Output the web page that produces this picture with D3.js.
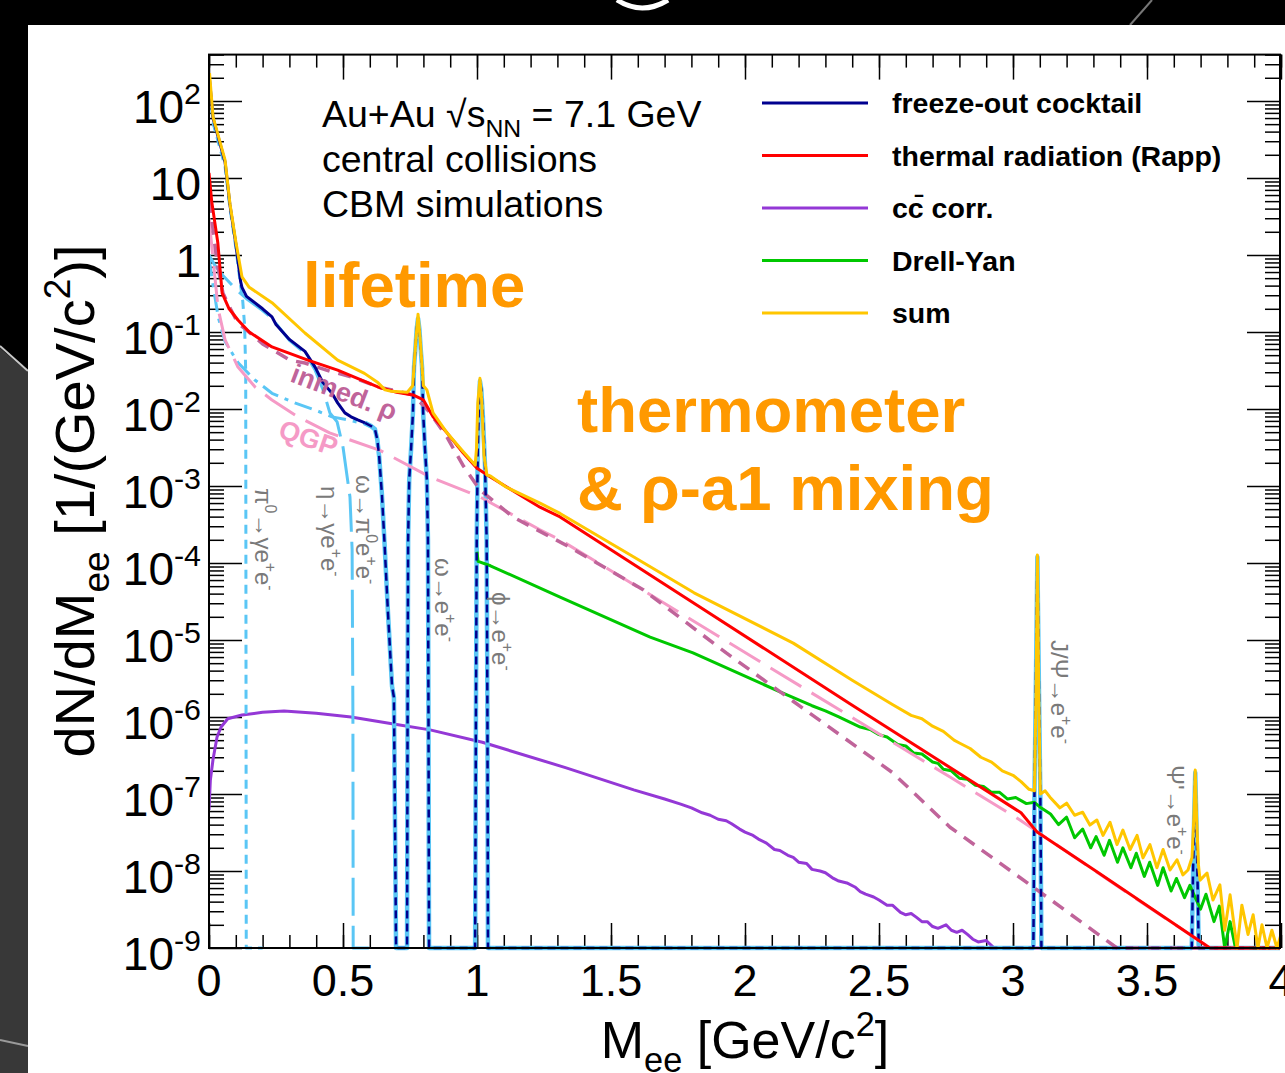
<!DOCTYPE html>
<html><head><meta charset="utf-8">
<script src="https://cdn.jsdelivr.net/npm/d3@7"></script>
<style>body{margin:0;background:#000;overflow:hidden}svg{display:block}</style>
</head><body><svg id="c" width="1285" height="1073"></svg>
<script>
// ---------------- DATA ----------------
const freezeOutCocktail = [[0,225],[0.015,60],[0.06,16],[0.078,4.5],[0.1,1.4],[0.118,0.45],[0.123,0.38],[0.14,0.29],[0.2,0.2],[0.235,0.157],[0.25,0.125],[0.3,0.08],[0.358,0.056],[0.396,0.035],[0.425,0.022],[0.459,0.016],[0.48,0.012],[0.507,0.0089],[0.53,0.0079],[0.555,0.0072],[0.582,0.0066],[0.605,0.006],[0.619,0.0055],[0.628,0.004],[0.635,0.0024],[0.645,8e-4],[0.655,1.8e-4],[0.668,2.2e-5],[0.683,2.5e-6],[0.69,1.8e-6],[0.698,1e-9],[0.739,1e-9],[0.741,1e-6],[0.743,2e-4],[0.747,1.2e-3],[0.754,3e-3],[0.761,0.009],[0.765,0.035],[0.770,0.06],[0.775,0.11],[0.780,0.15],[0.785,0.11],[0.790,0.06],[0.795,0.035],[0.799,0.009],[0.806,0.003],[0.813,1.2e-3],[0.817,2e-4],[0.819,1e-6],[0.821,1e-9],[0.993,1e-9],[0.996,1e-6],[0.999,2e-4],[1.003,3e-3],[1.007,0.011],[1.011,0.023],[1.016,0.018],[1.022,0.008],[1.030,1.8e-3],[1.036,2e-4],[1.039,1e-6],[1.041,1e-9],[3.076,1e-9],[3.080,1e-7],[3.085,2e-6],[3.091,1.2e-4],[3.097,2e-6],[3.102,1e-7],[3.106,1e-9],[3.667,1e-9],[3.672,1e-8],[3.676,5e-8],[3.680,1.9e-7],[3.684,5e-8],[3.688,1e-8],[3.693,1e-9],[4,1e-9]];
const pi0Dalitz = [[0,200],[0.015,52],[0.06,14],[0.078,4.1],[0.1,1.25],[0.118,0.4],[0.126,0.25],[0.133,0.12],[0.137,0.03],[0.138,1e-5],[0.139,1e-9],[0.2,1e-9]];
const etaDalitz = [[0,1.0],[0.02,0.75],[0.05,0.55],[0.1,0.36],[0.14,0.27],[0.2,0.19],[0.235,0.15],[0.3,0.078],[0.358,0.053],[0.396,0.032],[0.425,0.018],[0.451,0.0089],[0.478,0.0068],[0.5,0.0032],[0.526,7.2e-4],[0.534,1.5e-4],[0.537,1e-6],[0.538,1e-9],[0.6,1e-9]];
const omegaDalitz = [[0,0.9],[0.011,0.5],[0.034,0.157],[0.06,0.075],[0.108,0.04],[0.17,0.024],[0.235,0.016],[0.32,0.012],[0.396,0.0097],[0.459,0.0079],[0.52,0.0072],[0.58,0.0064],[0.605,0.0058],[0.619,0.0053],[0.628,0.0039],[0.635,0.0023],[0.645,7.5e-4],[0.655,1.7e-4],[0.668,2.1e-5],[0.683,2.4e-6],[0.69,1.7e-6],[0.698,1e-9]];
const inmedRho = [[0,10],[0.01,3],[0.03,0.8],[0.052,0.32],[0.08,0.2],[0.108,0.13],[0.142,0.105],[0.2,0.07],[0.302,0.043],[0.358,0.0395],[0.45,0.031],[0.534,0.026],[0.638,0.019],[0.683,0.0177],[0.72,0.0165],[0.761,0.0152],[0.79,0.012],[0.825,0.0089],[0.888,0.0043],[0.95,0.0018],[1.011,8.9e-4],[1.134,3.95e-4],[1.347,1.6e-4],[1.62,4.5e-5],[1.93,6.8e-6],[2.24,1.13e-6],[2.55,1.9e-7],[2.765,3.7e-8],[3.075,6.2e-9],[3.388,1e-9],[4,1e-9]];
const qgp = [[0,3.0],[0.015,0.9],[0.034,0.2],[0.06,0.079],[0.108,0.035],[0.172,0.0193],[0.235,0.0131],[0.332,0.0079],[0.45,0.0049],[0.638,0.0029],[0.825,0.00131],[1.011,7.2e-4],[1.235,2.7e-4],[1.31,2.0e-4],[1.93,9.7e-6],[2.765,1.66e-7],[3.026,4.6e-8],[3.4,6e-9],[3.735,1e-9],[4,1e-9]];
const thermalRapp = [[0,11.6],[0.01,5],[0.033,1.43],[0.049,0.32],[0.075,0.2],[0.108,0.143],[0.15,0.1],[0.235,0.064],[0.369,0.043],[0.48,0.032],[0.63,0.0193],[0.7,0.0165],[0.761,0.0152],[0.8,0.0131],[0.836,7.9e-3],[0.888,4.9e-3],[0.948,2.7e-3],[1.0,1.7e-3],[1.05,1.31e-3],[1.235,5.3e-4],[1.31,3.96e-4],[1.83,2.7e-5],[2.39,1.5e-6],[3.03,5.7e-8],[3.09,3.2e-8],[3.32,9.4e-9],[3.735,1e-9],[4,1e-9]];
const ccbarCorr = [[0,6.2e-8],[0.005,1.5e-7],[0.015,2.8e-7],[0.03,5.5e-7],[0.045,7.4e-7],[0.07,9.5e-7],[0.123,1.06e-6],[0.2,1.15e-6],[0.28,1.2e-6],[0.4,1.12e-6],[0.53,1.0e-6],[0.7,8e-7],[0.825,6.8e-7],[1.02,4.7e-7],[1.33,2.2e-7],[1.585,1.13e-7],[1.7,8.6e-8],[1.76,7.4e-8],[1.8,6.6e-8],[1.84,5.7e-8],[1.87,5.3e-8],[1.9,4.7e-8],[1.93,4.5e-8],[1.95,4.1e-8],[1.98,3.5e-8],[2.0,3.2e-8],[2.03,2.9e-8],[2.05,2.6e-8],[2.08,2.3e-8],[2.11,1.9e-8],[2.13,1.85e-8],[2.16,1.6e-8],[2.18,1.5e-8],[2.2,1.3e-8],[2.23,1.25e-8],[2.25,1.05e-8],[2.28,1.0e-8],[2.3,9.5e-9],[2.33,8.0e-9],[2.35,7.4e-9],[2.38,7.0e-9],[2.41,6.2e-9],[2.43,5.4e-9],[2.45,5.0e-9],[2.48,4.6e-9],[2.5,4.2e-9],[2.53,3.6e-9],[2.55,3.6e-9],[2.58,2.9e-9],[2.6,2.7e-9],[2.62,2.8e-9],[2.64,2.5e-9],[2.66,2.2e-9],[2.68,2.2e-9],[2.7,1.9e-9],[2.72,1.8e-9],[2.75,2.0e-9],[2.77,1.7e-9],[2.79,1.6e-9],[2.81,1.7e-9],[2.83,1.5e-9],[2.85,1.3e-9],[2.87,1.2e-9],[2.9,1.25e-9],[2.93,1e-9],[4,1e-9]];
const drellYan = [[1.0,1.4e-4],[1.004,1.05e-4],[1.05,9.2e-5],[1.31,3.6e-5],[1.646,1.09e-5],[1.806,6.8e-6],[2.0,3.4e-6],[2.12,2.2e-6],[2.25,1.4e-6],[2.3,1.2e-6],[2.35,1.0e-6],[2.43,7.4e-7],[2.47,6.8e-7],[2.5,5.9e-7],[2.53,5.5e-7],[2.57,4.4e-7],[2.6,4.2e-7],[2.63,3.4e-7],[2.66,3.3e-7],[2.7,2.6e-7],[2.72,2.5e-7],[2.74,2.1e-7],[2.77,2.0e-7],[2.8,1.6e-7],[2.83,1.55e-7],[2.86,1.3e-7],[2.89,1.25e-7],[2.92,1.05e-7],[2.95,1.05e-7],[2.98,8.6e-8],[3.01,9e-8],[3.05,7.5e-8],[3.08,7.8e-8],[3.10,6.8e-8],[3.14,5.5e-8],[3.17,4.0e-8],[3.2,5.0e-8],[3.23,2.7e-8],[3.26,3.5e-8],[3.29,2.0e-8],[3.31,2.8e-8],[3.34,1.6e-8],[3.36,2.5e-8],[3.39,1.3e-8],[3.41,2.0e-8],[3.44,1.1e-8],[3.46,1.7e-8],[3.49,8.5e-9],[3.51,1.3e-8],[3.54,6.5e-9],[3.56,1.1e-8],[3.59,5.5e-9],[3.61,8e-9],[3.64,4.5e-9],[3.66,6.5e-9],[3.68,4.5e-9],[3.70,3.2e-9],[3.72,5e-9],[3.75,2.2e-9],[3.77,3.5e-9],[3.79,1e-9],[3.81,2.2e-9],[3.83,1e-9],[4,1e-9]];
const sumAll = [[0.002,230],[0.015,62],[0.06,17],[0.078,4.7],[0.1,1.5],[0.123,0.52],[0.15,0.38],[0.235,0.24],[0.358,0.097],[0.48,0.043],[0.58,0.029],[0.63,0.022],[0.657,0.0177],[0.68,0.017],[0.74,0.0165],[0.76,0.02],[0.772,0.08],[0.78,0.17],[0.788,0.08],[0.8,0.02],[0.813,0.0177],[0.836,8.9e-3],[0.888,4.9e-3],[0.948,2.8e-3],[0.993,1.87e-3],[0.998,3e-3],[1.003,0.012],[1.011,0.025],[1.018,0.012],[1.026,2.5e-3],[1.037,1.39e-3],[1.05,1.35e-3],[1.108,9.7e-4],[1.235,6.0e-4],[1.31,4.4e-4],[1.56,1.35e-4],[1.81,4.1e-5],[2.18,9.1e-6],[2.4,3e-6],[2.55,1.45e-6],[2.62,1.05e-6],[2.66,9.5e-7],[2.7,7.6e-7],[2.74,6.5e-7],[2.78,5.0e-7],[2.8,4.6e-7],[2.84,3.9e-7],[2.88,3.0e-7],[2.92,2.6e-7],[2.96,2.0e-7],[3.0,1.75e-7],[3.03,1.45e-7],[3.06,1.15e-7],[3.08,1.1e-7],[3.086,2e-6],[3.091,1.27e-4],[3.096,2e-6],[3.102,1.0e-7],[3.12,1.1e-7],[3.138,9.1e-8],[3.175,6.6e-8],[3.2,7.6e-8],[3.23,5.3e-8],[3.26,5.8e-8],[3.287,3.95e-8],[3.313,4.6e-8],[3.336,2.9e-8],[3.362,4.3e-8],[3.388,2.2e-8],[3.41,3.4e-8],[3.437,1.9e-8],[3.463,2.9e-8],[3.485,1.48e-8],[3.511,2.2e-8],[3.537,1.1e-8],[3.56,1.9e-8],[3.586,1.03e-8],[3.612,1.4e-8],[3.634,8.9e-9],[3.653,1.03e-8],[3.668,1.5e-8],[3.675,5e-8],[3.68,2.05e-7],[3.685,5e-8],[3.692,1.2e-8],[3.698,7.6e-9],[3.724,9.4e-9],[3.746,4.2e-9],[3.772,6.6e-9],[3.79,1.7e-9],[3.81,4.9e-9],[3.836,1e-9],[3.854,3.6e-9],[3.877,1.5e-9],[3.896,2.7e-9],[3.914,1e-9],[3.929,2e-9],[3.948,1e-9],[3.966,1.7e-9],[3.985,1e-9],[4.0,1.5e-9]];

const xTickValues = [0,0.5,1,1.5,2,2.5,3,3.5,4];
const xTickLabels = ["0","0.5","1","1.5","2","2.5","3","3.5","4"];
const yTickValues = [1e-9,1e-8,1e-7,1e-6,1e-5,1e-4,1e-3,1e-2,1e-1,1,10,100];
const yTickLabels = ["10^{-9}","10^{-8}","10^{-7}","10^{-6}","10^{-5}","10^{-4}","10^{-3}","10^{-2}","10^{-1}","1","10","10^{2}"];
const legendLabels = ["freeze-out cocktail","thermal radiation (Rapp)","cc\u0304 corr.","Drell-Yan","sum"];
const decayLabels = ["\u03c0^{0}\u2192\u03b3e^{+}e^{-}","\u03b7\u2192\u03b3e^{+}e^{-}","\u03c9\u2192\u03c0^{0}e^{+}e^{-}","\u03c9\u2192e^{+}e^{-}","\u03d5\u2192e^{+}e^{-}","J/\u03a8\u2192e^{+}e^{-}","\u03a8'\u2192e^{+}e^{-}"];

// ---------------- DRAWING ----------------
const FONT = "'Liberation Sans', Arial, Helvetica, sans-serif";
const svg = d3.select("#c");

// slide background
svg.append("rect").attr("width",1285).attr("height",1073).attr("fill","#000");
svg.append("path").attr("d","M0,348 L28,372 L28,1073 L0,1073 Z").attr("fill","#383838");
svg.append("line").attr("x1",0).attr("y1",346).attr("x2",28).attr("y2",371).attr("stroke","#c8c8c8").attr("stroke-width",2);
svg.append("line").attr("x1",0).attr("y1",1040).attr("x2",28).attr("y2",1046).attr("stroke","#9a9a9a").attr("stroke-width",2);
svg.append("line").attr("x1",1152).attr("y1",0).attr("x2",1130).attr("y2",25).attr("stroke","#777").attr("stroke-width",2);
svg.append("path").attr("d","M617,0 Q642,16 668,0").attr("fill","none").attr("stroke","#fff").attr("stroke-width",5);
svg.append("rect").attr("x",28).attr("y",25).attr("width",1257).attr("height",1048).attr("fill","#fff");

const x = d3.scaleLinear().domain([0,4]).range([209,1281]);
const y = d3.scaleLog().domain([1e-9,400]).range([948,54.6]).clamp(true);
const X0 = x(0), X1 = 1280, Y0 = y(400), Y1 = y(1e-9);

// rich text helper: ^{sup} and _{sub}
function rich(sel, str, size){
  const parts = str.split(/(\^\{[^}]*\}|_\{[^}]*\})/).filter(s=>s.length);
  let cur = 0;
  parts.forEach(p=>{
    let shift=0, fs=size, t=p;
    if (p.startsWith("^{")) { shift=-0.42*size; fs=0.66*size; t=p.slice(2,-1); }
    else if (p.startsWith("_{")) { shift=0.26*size; fs=0.66*size; t=p.slice(2,-1); }
    sel.append("tspan").attr("dy", shift-cur).attr("font-size", fs).text(t);
    cur = shift;
  });
  return sel;
}

// ticks
const xMinor = d3.range(0, 4.0001, 0.1).map(v=>+v.toFixed(2));
const yMinor = [];
for (let e=-9; e<=2; e++) for (let k=2;k<=9;k++){ const v=k*Math.pow(10,e); if (v<=400) yMinor.push(v); }
const tk = svg.append("g");
function axisG(gen, tr){ const g = tk.append("g").attr("transform",tr).call(gen); g.select(".domain").remove(); g.selectAll("line").attr("stroke","#000").attr("stroke-width",1.5); g.selectAll("text").remove(); }
axisG(d3.axisTop(x).tickValues(xTickValues).tickSize(25).tickFormat(""), `translate(0,${Y1})`);
axisG(d3.axisTop(x).tickValues(xMinor).tickSize(13).tickFormat(""), `translate(0,${Y1})`);
axisG(d3.axisBottom(x).tickValues(xTickValues).tickSize(25).tickFormat(""), `translate(0,${Y0})`);
axisG(d3.axisBottom(x).tickValues(xMinor).tickSize(13).tickFormat(""), `translate(0,${Y0})`);
axisG(d3.axisRight(y).tickValues(yTickValues).tickSize(33).tickFormat(""), `translate(${X0},0)`);
axisG(d3.axisRight(y).tickValues(yMinor).tickSize(15).tickFormat(""), `translate(${X0},0)`);
axisG(d3.axisLeft(y).tickValues(yTickValues).tickSize(33).tickFormat(""), `translate(${X1},0)`);
axisG(d3.axisLeft(y).tickValues(yMinor).tickSize(15).tickFormat(""), `translate(${X1},0)`);

// curves
svg.append("clipPath").attr("id","clip").append("rect").attr("x",X0).attr("y",Y0).attr("width",X1-X0).attr("height",Y1-Y0+4);
const plot = svg.append("g").attr("clip-path","url(#clip)");
const line = d3.line().x(d=>x(d[0])).y(d=>y(Math.max(d[1],1e-9)));
function draw(data, color, w, dash){
  plot.append("path").datum(data).attr("d",line).attr("fill","none").attr("stroke",color)
    .attr("stroke-width",w).attr("stroke-dasharray",dash||null).attr("stroke-linejoin","round");
}
const LB = "#5ac6f5", NAVY = "#00008f";
draw(ccbarCorr, "#9438d6", 3);
draw(pi0Dalitz, LB, 3, "9,6");
draw(etaDalitz, LB, 3, "38,10");
draw(omegaDalitz, LB, 3, "18,7,4,7");
const cockLow = freezeOutCocktail.filter(d=>d[0]<=0.6);
const cockHigh = freezeOutCocktail.filter(d=>d[0]>=0.58);
draw(cockHigh, LB, 4.5);
draw(drellYan, "#00c800", 3);
draw(qgp, "#f59ac6", 3, "36,12");
draw(inmedRho, "#c0649a", 3.5, "13,9");
draw(cockLow, NAVY, 3);
draw(cockHigh, NAVY, 2.5, "8,5");
draw(thermalRapp, "#ff0000", 3);
draw(sumAll, "#ffc600", 3);

// frame
svg.append("rect").attr("x",X0).attr("y",Y0).attr("width",X1-X0).attr("height",Y1-Y0)
  .attr("fill","none").attr("stroke","#000").attr("stroke-width",2);

// tick labels
xTickValues.forEach((v,i)=>{
  svg.append("text").attr("x",x(v)).attr("y",996).attr("text-anchor","middle")
    .attr("font-family",FONT).attr("font-size",45).attr("fill","#000").text(xTickLabels[i]);
});
yTickValues.forEach((v,i)=>{
  const t = svg.append("text").attr("x",201).attr("y",y(v)+22).attr("text-anchor","end")
    .attr("font-family",FONT).attr("fill","#000");
  rich(t, yTickLabels[i], 46);
});

// axis titles
rich(svg.append("text").attr("x",745).attr("y",1058).attr("text-anchor","middle").attr("font-family",FONT).attr("fill","#000"),
  "M_{ee} [GeV/c^{2}]", 52);
rich(svg.append("text").attr("transform","translate(94,501) rotate(-90)").attr("text-anchor","middle").attr("font-family",FONT).attr("fill","#000"),
  "dN/dM_{ee} [1/(GeV/c^{2})]", 56);

// info text
const info = ["Au+Au \u221As_{NN} = 7.1 GeV","central collisions","CBM simulations"];
info.forEach((s,i)=>{
  rich(svg.append("text").attr("x",322).attr("y",127+i*45).attr("font-family",FONT).attr("fill","#000"), s, 37.5);
});

// orange annotations
const orange = [["lifetime",303,307],["thermometer",577,432],["& \u03c1-a1 mixing",577,510]];
orange.forEach(o=>{
  svg.append("text").attr("x",o[1]).attr("y",o[2]).attr("font-family",FONT).attr("font-weight","bold")
    .attr("font-size",63.5).attr("fill","#ff9900").text(o[0]);
});

// legend
const legendStyles = [[NAVY],["#ff0000"],["#9438d6"],["#00c800"],["#ffc600"]];
legendLabels.forEach((s,i)=>{
  const ly = 103 + i*52.5;
  svg.append("line").attr("x1",762).attr("x2",868).attr("y1",ly).attr("y2",ly).attr("stroke",legendStyles[i][0]).attr("stroke-width",3);
  svg.append("text").attr("x",892).attr("y",ly+10).attr("font-family",FONT).attr("font-weight","bold")
    .attr("font-size",28.5).attr("fill","#000").text(s);
});

// rotated decay labels
const decayPos = [[255,488],[321,486],[356,475],[435,558],[492,592],[1051,640],[1167,765]];
decayLabels.forEach((s,i)=>{
  const t = svg.append("text").attr("transform",`translate(${decayPos[i][0]},${decayPos[i][1]}) rotate(90)`)
    .attr("font-family",FONT).attr("fill","#7a7a7a");
  rich(t, s, 24);
});

// curve labels
svg.append("text").attr("transform","translate(289,381) rotate(21)").attr("font-family",FONT).attr("font-weight","bold")
  .attr("font-size",27).attr("fill","#c0649a").text("inmed. \u03c1");
svg.append("text").attr("transform","translate(277,437) rotate(19)").attr("font-family",FONT).attr("font-weight","bold")
  .attr("font-size",27).attr("fill","#f59ac6").text("QGP");
</script></body></html>
